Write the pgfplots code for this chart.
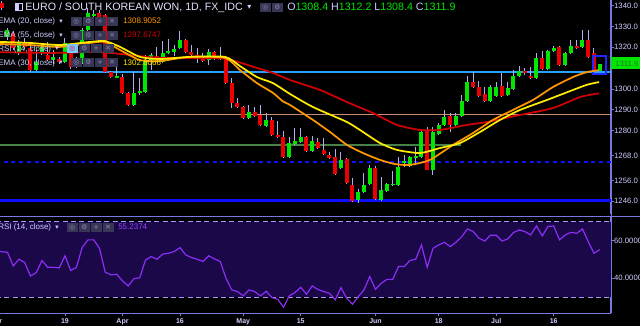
\documentclass[border=0pt]{standalone}
\usepackage{pgfplots}
\pgfplotsset{compat=1.18}
\usepackage{pgfplotstable}
\usepackage{fontspec}
\setmainfont{Liberation Sans}
\newfontfamily\dejavu{DejaVu Sans}

\definecolor{upc}{RGB}{0,230,0}
\definecolor{dnc}{RGB}{235,0,0}
\definecolor{wickc}{RGB}{175,175,240}
\definecolor{ema20}{RGB}{255,152,0}
\definecolor{ema30}{RGB}{255,235,0}
\definecolor{ema55}{RGB}{210,0,0}
\definecolor{cyanl}{RGB}{40,160,255}
\definecolor{lightbox}{RGB}{120,200,255}
\definecolor{brownl}{RGB}{200,140,110}
\definecolor{greenl}{RGB}{70,130,70}
\definecolor{bluel}{RGB}{15,15,255}
\definecolor{axc}{RGB}{120,120,230}
\definecolor{labc}{RGB}{205,205,255}
\definecolor{titc}{RGB}{225,225,255}
\definecolor{rsifill}{RGB}{26,8,72}
\definecolor{rsil}{RGB}{140,45,245}
\definecolor{rsival}{RGB}{150,70,255}
\definecolor{rsidash}{RGB}{170,150,255}
\definecolor{iconc}{RGB}{55,55,85}
\definecolor{icsym}{RGB}{140,140,175}
\definecolor{ohlcg}{RGB}{0,230,0}
\definecolor{boxblue}{RGB}{30,40,255}
\definecolor{lastlab}{RGB}{40,120,40}

\pgfplotstableread{
i o h l c
-11 1341.5 1342.5 1338.0 1338.9
-10 1325.0 1329.5 1323.5 1328.3
-9 1326.9 1327.8 1318.7 1319.7
-8 1317.3 1323.5 1316.3 1322.6
-7 1322.6 1324.5 1319.2 1320.2
-6 1319.7 1320.6 1308.1 1309.1
-5 1309.1 1318.7 1308.6 1312.9
-4 1317.3 1321.6 1316.3 1320.2
-3 1316.3 1322.6 1313.4 1313.9
-2 1313.9 1318.7 1312.0 1315.4
-1 1314.4 1315.4 1312.0 1312.9
0 1312.9 1324.5 1312.5 1322.1
1 1320.2 1321.1 1309.6 1310.5
2 1310.5 1315.4 1310.1 1312.9
3 1312.5 1329.3 1312.0 1328.3
4 1328.3 1338.9 1327.8 1336.5
5 1335.5 1337.9 1334.6 1336.0
6 1336.5 1337.9 1330.2 1330.7
7 1335.5 1336.0 1307.7 1308.1
8 1308.1 1308.6 1305.3 1305.7
9 1305.7 1310.5 1305.3 1306.2
10 1305.7 1307.2 1297.6 1298.1
11 1298.1 1298.5 1291.8 1292.3
12 1292.3 1308.1 1291.8 1298.1
13 1298.1 1305.3 1297.1 1299.0
14 1298.5 1316.3 1298.1 1313.9
15 1313.9 1317.3 1309.1 1316.3
16 1315.8 1320.2 1313.4 1313.9
17 1312.9 1323.0 1312.5 1317.3
18 1317.3 1324.0 1316.8 1318.2
19 1317.7 1321.1 1315.8 1319.2
20 1319.7 1327.8 1319.2 1323.5
21 1323.5 1324.0 1317.3 1317.7
22 1317.7 1321.1 1315.8 1316.3
23 1316.3 1319.7 1312.5 1315.4
24 1315.8 1317.3 1312.9 1313.4
25 1313.9 1319.2 1311.5 1317.7
26 1317.7 1318.2 1313.9 1315.4
27 1315.8 1320.2 1313.9 1314.4
28 1314.4 1315.4 1302.4 1302.8
29 1302.8 1305.3 1290.8 1293.3
30 1293.3 1295.7 1290.8 1291.3
31 1291.3 1291.8 1285.6 1286.0
32 1286.0 1292.3 1285.6 1288.9
33 1288.9 1291.3 1286.5 1287.0
34 1287.5 1292.3 1282.2 1282.7
35 1282.2 1288.4 1281.7 1285.1
36 1285.1 1286.5 1277.4 1277.9
37 1277.9 1284.6 1276.4 1276.9
38 1276.9 1279.8 1266.8 1267.3
39 1267.3 1276.9 1266.8 1274.0
40 1273.5 1281.2 1273.0 1275.0
41 1274.5 1281.2 1274.0 1276.9
42 1276.9 1277.4 1269.7 1270.2
43 1270.2 1277.4 1269.7 1275.0
44 1274.5 1276.4 1271.2 1271.6
45 1270.7 1276.4 1268.3 1268.7
46 1268.3 1269.7 1266.3 1266.8
47 1267.3 1271.2 1258.7 1259.1
48 1262.0 1269.7 1261.5 1265.9
49 1266.3 1266.8 1254.3 1254.8
50 1253.9 1257.2 1245.7 1246.2
51 1246.7 1251.9 1245.2 1250.5
52 1250.5 1259.6 1250.0 1253.9
53 1254.3 1263.5 1253.9 1262.0
54 1262.0 1263.0 1246.7 1247.1
55 1246.7 1257.7 1246.2 1251.5
56 1251.0 1254.8 1250.5 1254.3
57 1253.9 1260.6 1253.4 1254.3
58 1253.9 1267.3 1253.4 1262.5
59 1264.9 1268.3 1262.5 1265.2
60 1263.0 1268.0 1262.5 1267.3
61 1266.8 1272.1 1264.4 1267.8
62 1267.3 1280.3 1266.8 1279.3
63 1280.3 1281.7 1261.0 1261.1
64 1261.1 1281.7 1258.7 1279.3
65 1278.4 1283.6 1278.0 1282.7
66 1282.7 1289.9 1282.2 1286.5
67 1287.0 1288.4 1279.3 1282.7
68 1282.7 1288.4 1282.2 1287.0
69 1287.0 1297.1 1286.5 1294.2
70 1294.2 1306.2 1293.8 1303.3
71 1303.3 1308.1 1300.5 1300.9
72 1300.9 1303.8 1296.2 1296.6
73 1297.6 1300.9 1293.8 1294.2
74 1294.2 1301.9 1293.8 1300.9
75 1296.6 1303.3 1296.2 1300.9
76 1301.4 1307.7 1296.2 1296.6
77 1297.1 1303.3 1296.6 1300.5
78 1300.0 1309.1 1299.5 1306.2
79 1306.2 1311.0 1305.7 1308.6
80 1308.6 1310.1 1306.7 1307.7
81 1306.2 1310.5 1304.8 1305.3
82 1305.3 1317.3 1304.8 1314.9
83 1314.9 1318.2 1309.1 1309.6
84 1309.6 1318.7 1309.1 1318.2
85 1318.2 1320.6 1317.7 1319.7
86 1320.2 1320.6 1311.0 1311.5
87 1311.5 1317.7 1311.0 1317.3
88 1317.3 1323.5 1316.8 1320.6
89 1320.6 1323.5 1319.2 1319.7
90 1320.2 1328.3 1319.7 1323.5
91 1323.5 1328.3 1314.9 1315.4
92 1317.3 1319.7 1308.1 1308.6
93 1308.4 1312.2 1308.4 1311.9
}\candles

\pgfplotstableread{
i r
-11.3 54.2
-10 53.8
-9 46.5
-8 50.1
-7 48.3
-6 41.2
-5 43.0
-4 49.4
-3 45.8
-2 45.8
-1 45.5
0 51.9
1 44.1
2 45.8
3 56.5
4 60.4
5 60.4
6 55.9
7 43.2
8 41.8
9 42.1
10 38.6
11 35.9
12 39.8
13 40.2
14 49.7
15 51.5
16 50.1
17 52.8
18 53.3
19 54.2
20 56.3
21 52.4
22 51.0
23 50.1
24 48.9
25 51.9
26 50.3
27 48.9
28 40.0
29 33.8
30 32.9
31 30.6
32 33.8
33 32.9
34 30.6
35 33.1
36 29.7
37 28.8
38 24.6
39 30.6
40 32.4
41 35.2
42 31.5
43 35.9
44 34.0
45 32.9
46 32.0
47 28.5
48 35.0
49 29.3
50 26.2
51 30.2
52 33.8
53 40.9
54 34.1
55 37.3
56 39.4
57 39.4
58 46.2
59 46.2
60 49.4
61 50.1
62 57.7
63 45.8
64 55.9
65 57.7
66 59.1
67 56.8
68 59.1
69 62.1
70 66.2
71 64.8
72 61.3
73 59.8
74 62.9
75 62.9
76 59.8
77 60.9
78 64.3
79 65.7
80 64.8
81 63.0
82 67.8
83 62.5
84 67.5
85 67.8
86 60.4
87 63.0
88 64.4
89 63.9
90 66.2
91 59.5
92 53.3
93 55.2
}\rsi

\newcommand\ibox[4]{\fill[#3] (#1,#2) rectangle ++(10.5,9);
  \node[inner sep=0,text=icsym,font=\dejavu\fontsize{5}{5}\selectfont] at ({#1+5.25},{#2+4.5}) {#4};}

\begin{document}
\begin{tikzpicture}[x=0.75pt,y=0.75pt]
\fill[black] (0,0) rectangle (640,326);

% ---------------- price pane
\begin{axis}[at={(0pt,84pt)}, anchor=south west, scale only axis,
  width=458.25pt, height=160.5pt,
  xmin=-11.304, xmax=94.96, ymin=1239.9, ymax=1342.74,
  axis x line=none, axis y line*=right,
  y axis line style={axc, line width=0.75pt},
  ytick={1246,1256,1268,1280,1290,1300,1320,1330,1340},
  scaled y ticks=false,
  yticklabel style={font=\fontsize{5.8}{7}\selectfont, text=labc, anchor=west, inner sep=0pt, xshift=-0.3pt,
    /pgf/number format/.cd, fixed, fixed zerofill, precision=1, 1000 sep={}, assume math mode=true},
  tick style={axc, line width=0.6pt}, major tick length=2.5pt, tick align=outside,
  clip=true]
\addplot[cyanl, line width=1.1pt, forget plot] coordinates {(-12,1308.1) (96,1308.1)};
\addplot[brownl, line width=0.8pt, forget plot] coordinates {(-12,1287.5) (96,1287.5)};
\addplot[greenl, line width=1.5pt, forget plot] coordinates {(-12,1272.9) (68.9,1272.9)};
\addplot[bluel, line width=1.5pt, dash pattern=on 3pt off 2.8pt, forget plot] coordinates {(-12,1264.9) (96,1264.9)};
\addplot[bluel, line width=2.25pt, forget plot] coordinates {(-12,1246.2) (96,1246.2)};
% wicks
\addplot[draw=none, mark=none, forget plot,
  error bars/.cd, y dir=both, y explicit, error mark=none,
  error bar style={draw=wickc, line width=0.75pt, solid}]
  table[x=i, y expr={(\thisrow{h}+\thisrow{l})/2}, y error expr={(\thisrow{h}-\thisrow{l})/2}] {\candles};
% up bodies
\addplot[draw=none, mark=none, forget plot,
  restrict expr to domain={\thisrow{c}-\thisrow{o}}{0:1000},
  error bars/.cd, y dir=both, y explicit, error mark=none,
  error bar style={draw=upc, line width=3pt, solid}]
  table[x=i, y expr={(\thisrow{o}+\thisrow{c})/2}, y error expr={max(abs(\thisrow{c}-\thisrow{o})/2,0.3)}] {\candles};
% down bodies
\addplot[draw=none, mark=none, forget plot,
  restrict expr to domain={\thisrow{c}-\thisrow{o}}{-1000:-0.00001},
  error bars/.cd, y dir=both, y explicit, error mark=none,
  error bar style={draw=dnc, line width=3pt, solid}]
  table[x=i, y expr={(\thisrow{o}+\thisrow{c})/2}, y error expr={max(abs(\thisrow{c}-\thisrow{o})/2,0.3)}] {\candles};
\draw[boxblue, line width=1.5pt] (axis cs:91.85,1307.2) rectangle (axis cs:94.1,1315.8);
% EMAs
\addplot[ema55, line width=1.3pt, smooth, tension=0.4] coordinates {(-11.3,1317.7) (-2.61,1317.3) (6.09,1317.7) (11.30,1316.3) (16.52,1314.9) (23.48,1314.9) (28.17,1314.4) (33.39,1310.1) (36.17,1307.7) (39.13,1304.3) (44.35,1299.5) (49.04,1293.7) (53.57,1288.4) (57.74,1282.7) (61.74,1280.3) (65.22,1280.3) (69.91,1282.7) (73.39,1284.1) (79.13,1287.5) (84.87,1290.8) (89.57,1296.1) (92.87,1297.9)};
\addplot[ema20, line width=1.3pt, smooth, tension=0.4] coordinates {(-11.3,1321.6) (-6.09,1321.1) (-0.87,1320.2) (4.35,1322.1) (6.96,1322.6) (9.57,1318.7) (13.04,1313.9) (16.52,1313.4) (21.74,1315.4) (27.83,1314.9) (30.43,1309.1) (33.39,1302.8) (36.17,1298.1) (37.91,1294.0) (39.13,1292.3) (43.13,1285.1) (46.09,1279.3) (49.04,1273.1) (51.83,1269.2) (54.78,1265.9) (57.39,1263.9) (60.0,1263.5) (63.48,1265.9) (67.48,1273.1) (70.96,1278.8) (74.43,1285.1) (77.91,1289.9) (81.39,1294.7) (84.87,1300.9) (88.35,1305.7) (90.78,1308.1) (92.87,1309.0)};
\addplot[ema30, line width=1.3pt, smooth, tension=0.4] coordinates {(-11.3,1322.6) (-6.09,1322.1) (-0.87,1321.1) (4.35,1322.6) (6.96,1323.0) (9.57,1320.2) (13.04,1315.4) (16.52,1314.4) (21.74,1315.4) (27.83,1315.4) (30.43,1311.0) (33.39,1305.7) (36.17,1302.8) (39.13,1297.6) (43.13,1291.3) (49.04,1284.1) (51.83,1279.3) (54.78,1274.0) (57.74,1270.7) (61.74,1269.2) (65.22,1271.6) (68.70,1274.0) (72.17,1279.3) (75.65,1285.1) (79.13,1289.9) (83.83,1294.7) (88.35,1299.5) (90.78,1302.0) (92.87,1303.3)};
\end{axis}

% ---------------- RSI pane
\begin{axis}[at={(0pt,9.75pt)}, anchor=south west, scale only axis,
  width=458.25pt, height=72.75pt,
  xmin=-11.304, xmax=94.96, ymin=21.5, ymax=73.1,
  axis x line*=bottom, axis y line*=right,
  axis line style={axc, line width=0.75pt},
  xtick={0,10,20,31,41,54,65,75,85},
  xticklabels={19,Apr,16,May,15,Jun,18,Jul,16},
  xticklabel style={font=\bfseries\fontsize{5.25}{6}\selectfont, text=labc, text height=4pt, text depth=1pt, inner sep=1pt},
  ytick={40,60},
  yticklabel style={font=\fontsize{5.8}{7}\selectfont, text=labc, anchor=west, inner sep=0pt, xshift=-0.3pt,
    /pgf/number format/.cd, fixed, fixed zerofill, precision=4, assume math mode=true},
  tick style={axc, line width=0.6pt}, major tick length=2.5pt, tick align=outside,
  clip=true]
\fill[rsifill] (axis cs:-12,30) rectangle (axis cs:96,70);
\addplot[rsidash, line width=0.75pt, dash pattern=on 3.75pt off 2.5pt] coordinates {(-12,70) (96,70)};
\addplot[rsidash, line width=0.75pt, dash pattern=on 3.75pt off 2.5pt] coordinates {(-12,30) (96,30)};
\addplot[rsil, line width=0.9pt] table[x=i, y=r] {\rsi};
\end{axis}

% ---------------- frame lines
\draw[axc, line width=0.75pt] (611,326) -- (611,13);
\draw[axc, line width=0.75pt] (0,110) -- (640,110);
\draw[axc, line width=0.75pt] (0,13) -- (611,13);

% ---------------- header
\draw[labc, line width=0.6pt] (15.5,315.5) rectangle (22,322.5);
\fill[labc] (15.5,315.5) rectangle (18.5,322.5);
\node[anchor=base west, inner sep=0, text=titc, font=\fontsize{8}{9}\selectfont] at (25,315.3) {EURO / SOUTH KOREAN WON, 1D, FX\_IDC};
\node[anchor=base west, inner sep=0, text=labc, font=\dejavu\fontsize{6}{6}\selectfont] at (247,316) {▾};
\ibox{260}{314}{iconc}{◎}
\ibox{272}{314}{iconc}{⚙}
\node[anchor=base west, inner sep=0, font=\fontsize{8}{9}\selectfont] at (287,315.3) {\textcolor{labc}{O}\textcolor{ohlcg}{1308.4} \textcolor{labc}{H}\textcolor{ohlcg}{1312.2} \textcolor{labc}{L}\textcolor{ohlcg}{1308.4} \textcolor{labc}{C}\textcolor{ohlcg}{1311.9}};

% indicator rows
\node[anchor=base west, inner sep=0, text=labc, font=\fontsize{6}{7}\selectfont] at (-2,302.5) {EMA (20, close)};
\node[anchor=base west, inner sep=0, text=labc, font=\dejavu\fontsize{5}{5}\selectfont] at (59,303) {▾};
\ibox{71}{300}{iconc}{◎}\ibox{83}{300}{iconc}{⚙}\ibox{95}{300}{iconc}{+}\ibox{107}{300}{iconc}{✕}
\node[anchor=base west, inner sep=0, text=ema20, font=\fontsize{6}{7}\selectfont] at (123,302.5) {1308.9052};

\node[anchor=base west, inner sep=0, text=labc, font=\fontsize{6}{7}\selectfont] at (-2,288.5) {EMA (55, close)};
\node[anchor=base west, inner sep=0, text=labc, font=\dejavu\fontsize{5}{5}\selectfont] at (59,289) {▾};
\ibox{71}{286}{iconc}{◎}\ibox{83}{286}{iconc}{⚙}\ibox{95}{286}{iconc}{+}\ibox{107}{286}{iconc}{✕}
\node[anchor=base west, inner sep=0, text=ema55, font=\fontsize{6}{7}\selectfont] at (123,288.5) {1297.6747};

\node[anchor=base west, inner sep=0, text=labc, font=\fontsize{6}{7}\selectfont] at (-2,275) {RSI (14, close)};
\node[anchor=base west, inner sep=0, text=labc, font=\dejavu\fontsize{5}{5}\selectfont] at (55,275.5) {▾};
\fill[lightbox] (67,273) rectangle ++(10.5,9);
\node[inner sep=0,text=dnc,font=\dejavu\fontsize{5}{5}\selectfont] at (72.25,277.5) {◎};
\ibox{79}{273}{iconc}{⚙}\ibox{91}{273}{iconc}{+}\ibox{103}{273}{iconc}{✕}

\node[anchor=base west, inner sep=0, text=labc, font=\fontsize{6}{7}\selectfont] at (-2,261) {EMA (30, close)};
\node[anchor=base west, inner sep=0, text=labc, font=\dejavu\fontsize{5}{5}\selectfont] at (59,261.5) {▾};
\ibox{71}{259}{iconc}{◎}\ibox{83}{259}{iconc}{⚙}\ibox{95}{259}{iconc}{+}\ibox{107}{259}{iconc}{✕}
\node[anchor=base west, inner sep=0, text=ema30, font=\fontsize{6}{7}\selectfont] at (123,261) {1302.8066};

% RSI pane label
\node[anchor=base west, inner sep=0, text=labc, font=\fontsize{6}{7}\selectfont] at (-2,96.5) {RSI (14, close)};
\node[anchor=base west, inner sep=0, text=labc, font=\dejavu\fontsize{5}{5}\selectfont] at (55,97) {▾};
\ibox{67}{94}{iconc}{◎}\ibox{79}{94}{iconc}{⚙}\ibox{91}{94}{iconc}{+}\ibox{103}{94}{iconc}{✕}
\node[anchor=base west, inner sep=0, text=rsival, font=\fontsize{6}{7}\selectfont] at (118,96.5) {55.2374};

% last price label
\fill[upc] (611,257) rectangle (640,269);
\node[anchor=base west, inner sep=0, text=lastlab, font=\fontsize{5.8}{7}\selectfont] at (615,260) {1311.9};

% cut-off month label
\node[anchor=base, inner sep=0, text=labc, font=\bfseries\fontsize{5.25}{6}\selectfont] at (-4,2.5) {Mar};

\pgfresetboundingbox
\path (0,0) rectangle (640,326);
\end{tikzpicture}
\end{document}
